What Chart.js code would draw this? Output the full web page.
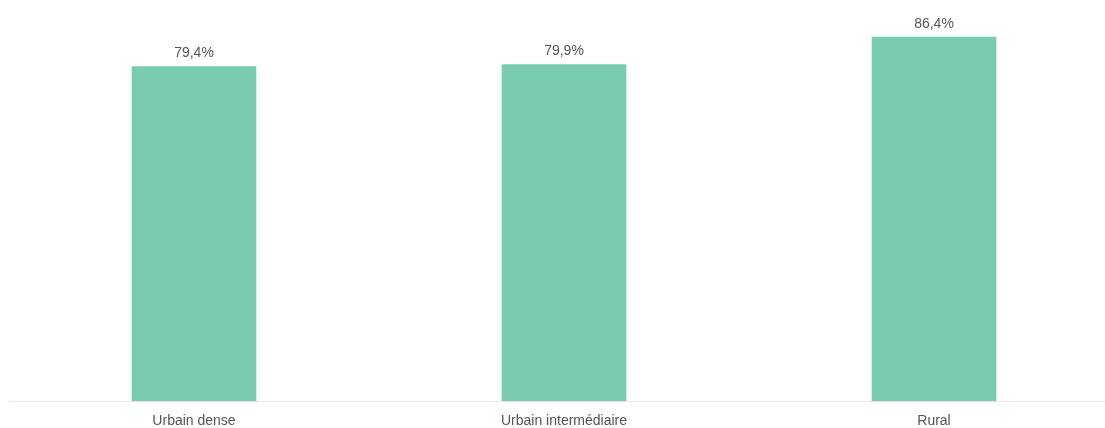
<!DOCTYPE html>
<html>
<head>
<meta charset="utf-8">
<script src="https://cdn.jsdelivr.net/npm/chart.js@4"></script>
<style>
    html, body { margin: 0; padding: 0; background: #fff; overflow: hidden; }
    #wrap { width: 1120px; height: 428px; }
</style>
</head>
<body>
<div id="wrap"><canvas id="grafico" width="1120" height="428"></canvas></div>
<script>
const categories = ["Urbain dense", "Urbain intermédiaire", "Rural"];
const values = [79.4, 79.9, 86.4];

// etiquetas encima de las barras
const valueLabels = {
    id: "valueLabels",
    afterDatasetsDraw(chart) {
        const ctx = chart.ctx;
        const meta = chart.getDatasetMeta(0);
        ctx.save();
        ctx.font = "14px 'Liberation Sans', Arial, sans-serif";
        ctx.fillStyle = "#555";
        ctx.textAlign = "center";
        ctx.textBaseline = "bottom";
        meta.data.forEach((bar, i) => {
            ctx.fillText(values[i].toFixed(1).replace(".", ",") + "%", bar.x, bar.y - 6);
        });
        ctx.restore();
    }
};

new Chart(document.getElementById("grafico"), {
    type: "bar",
    data: {
        labels: categories,
        datasets: [{
            data: values,
            backgroundColor: "#79cdae",
            barThickness: 124
        }]
    },
    options: {
        responsive: false,
        animation: false,
        layout: { padding: { top: 22, left: 9, right: 1, bottom: 0 } },
        plugins: {
            legend: { display: false },
            tooltip: { enabled: false }
        },
        scales: {
            x: {
                grid: { display: false, drawTicks: false },
                border: { display: true, color: "#e6e6e6", width: 1 },
                ticks: {
                    padding: 12,
                    color: "#555",
                    font: { family: "'Liberation Sans', Arial, sans-serif", size: 14 }
                },
                afterFit: function (scale) { scale.height = 27; }
            },
            y: {
                display: false,
                min: 0,
                max: 90
            }
        }
    },
    plugins: [valueLabels]
});
</script>
</body>
</html>
